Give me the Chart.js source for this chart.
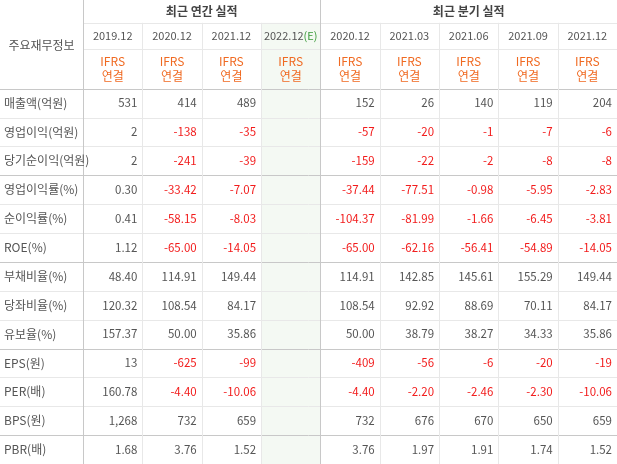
<!DOCTYPE html>
<html><head><meta charset="utf-8">
<script src="https://cdn.jsdelivr.net/npm/chart.js@4"></script>
<style>html,body{margin:0;padding:0;background:#fff}#wrap{width:617px;height:464px}</style>
</head><body><div id="wrap"><canvas id="myChart"></canvas></div>
<script>
const groupLabels = ['최근 연간 실적', '최근 분기 실적']
const periods = ['2019.12', '2020.12', '2021.12', '2022.12', '2020.12', '2021.03', '2021.06', '2021.09', '2021.12']
const rowLabels = ['매출액(억원)', '영업이익(억원)', '당기순이익(억원)', '영업이익률(%)', '순이익률(%)', 'ROE(%)',
  '부채비율(%)', '당좌비율(%)', '유보율(%)', 'EPS(원)', 'PER(배)', 'BPS(원)', 'PBR(배)']
const values = [
  ['531', '414', '489', '', '152', '26', '140', '119', '204'],
  ['2', '-138', '-35', '', '-57', '-20', '-1', '-7', '-6'],
  ['2', '-241', '-39', '', '-159', '-22', '-2', '-8', '-8'],
  ['0.30', '-33.42', '-7.07', '', '-37.44', '-77.51', '-0.98', '-5.95', '-2.83'],
  ['0.41', '-58.15', '-8.03', '', '-104.37', '-81.99', '-1.66', '-6.45', '-3.81'],
  ['1.12', '-65.00', '-14.05', '', '-65.00', '-62.16', '-56.41', '-54.89', '-14.05'],
  ['48.40', '114.91', '149.44', '', '114.91', '142.85', '145.61', '155.29', '149.44'],
  ['120.32', '108.54', '84.17', '', '108.54', '92.92', '88.69', '70.11', '84.17'],
  ['157.37', '50.00', '35.86', '', '50.00', '38.79', '38.27', '34.33', '35.86'],
  ['13', '-625', '-99', '', '-409', '-56', '-6', '-20', '-19'],
  ['160.78', '-4.40', '-10.06', '', '-4.40', '-2.20', '-2.46', '-2.30', '-10.06'],
  ['1,268', '732', '659', '', '732', '676', '670', '650', '659'],
  ['1.68', '3.76', '1.52', '', '3.76', '1.97', '1.91', '1.74', '1.52']
]

const FONT = '"Noto Sans CJK KR", sans-serif'
const XMIN = -1.9

const tablePlugin = {
  id: 'tableDraw',
  afterDraw(chart) {
    const ctx = chart.ctx
    const x = chart.scales.x, y = chart.scales.y
    const X = v => x.getPixelForValue(v), Y = v => y.getPixelForValue(v)
    const left = X(XMIN), right = X(8.5), top = Y(-3.07), bottom = Y(13)
    ctx.save()
    // estimate column background
    ctx.fillStyle = '#f4f9f3'
    ctx.fillRect(X(2.5), Y(-2.28), X(3.5) - X(2.5), bottom - Y(-2.28))
    const hline = (yy, x0, x1, c) => { ctx.strokeStyle = c; ctx.lineWidth = 1; ctx.beginPath(); ctx.moveTo(x0, Math.round(yy) + 0.5); ctx.lineTo(x1, Math.round(yy) + 0.5); ctx.stroke() }
    const vline = (xx, y0, y1, c) => { ctx.strokeStyle = c; ctx.lineWidth = 1; ctx.beginPath(); ctx.moveTo(Math.round(xx) + 0.5, y0); ctx.lineTo(Math.round(xx) + 0.5, y1); ctx.stroke() }
    // grid
    for (let i = 1; i < rowLabels.length; i++) {
      hline(Y(i), left, right, i % 3 === 0 ? '#c8c8c8' : '#e8e8e8')
    }
    hline(Y(0), left, right, '#c8c8c8')
    hline(Y(-2.28), X(-0.5), right, '#e8e8e8')
    hline(Y(-1.38), X(-0.5), right, '#e8e8e8')
    for (let c = 0; c < periods.length; c++) {
      const xx = X(c - 0.5)
      const strong = c === 0 || c === 4
      vline(xx, strong ? top : Y(-2.28), bottom, strong ? '#c8c8c8' : '#e8e8e8')
    }
    // header text
    ctx.textBaseline = 'middle'
    ctx.textAlign = 'center'
    ctx.fillStyle = '#444'
    ctx.font = 'bold 12px ' + FONT
    ctx.fillText(groupLabels[0], (X(-0.5) + X(3.5)) / 2, (Y(-3.07) + Y(-2.28)) / 2)
    ctx.fillText(groupLabels[1], (X(3.5) + X(8.5)) / 2, (Y(-3.07) + Y(-2.28)) / 2)
    ctx.font = '12px ' + FONT
    ctx.fillStyle = '#555'
    ctx.fillText('주요재무정보', (left + X(-0.5)) / 2, Y(-1.5))
    periods.forEach((p, c) => {
      const cx = X(c), cy = (Y(-2.28) + Y(-1.38)) / 2
      ctx.font = '11px ' + FONT
      if (c === 3) {
        const w1 = ctx.measureText(p).width, w2 = ctx.measureText('(E)').width
        ctx.textAlign = 'left'
        ctx.fillStyle = '#555'
        ctx.fillText(p, cx - (w1 + w2) / 2, cy)
        ctx.fillStyle = '#3a9a3a'
        ctx.fillText('(E)', cx - (w1 + w2) / 2 + w1, cy)
        ctx.textAlign = 'center'
      } else {
        ctx.fillStyle = '#555'
        ctx.fillText(p, cx, cy)
      }
      ctx.fillStyle = '#f06a22'
      ctx.font = '12px ' + FONT
      ctx.fillText('IFRS', cx, Y(-0.93))
      ctx.fillText('연결', cx, Y(-0.43))
    })
    // rows
    rowLabels.forEach((lab, r) => {
      const cy = Y(r + 0.5)
      ctx.textAlign = 'left'
      ctx.fillStyle = '#555'
      ctx.font = '12px ' + FONT
      ctx.fillText(lab, left + 4, cy)
      ctx.textAlign = 'right'
      ctx.font = '11.5px ' + FONT
      values[r].forEach((v, c) => {
        if (!v) return
        ctx.fillStyle = v.startsWith('-') ? '#f21c1c' : '#555'
        ctx.fillText(v, X(c + 0.5) - 5, cy)
      })
    })
    ctx.restore()
  }
}

const ctx = document.getElementById('myChart')
new Chart(ctx, {
  type: 'scatter',
  data: { datasets: [{ data: [] }] },
  options: {
    responsive: true,
    maintainAspectRatio: false,
    animation: false,
    layout: { padding: 0 },
    plugins: { legend: { display: false }, tooltip: { enabled: false } },
    scales: {
      x: { type: 'linear', min: XMIN, max: 8.5, display: false },
      y: { type: 'linear', min: -3.07, max: 13, reverse: true, display: false }
    }
  },
  plugins: [tablePlugin]
})
</script>
</body></html>
